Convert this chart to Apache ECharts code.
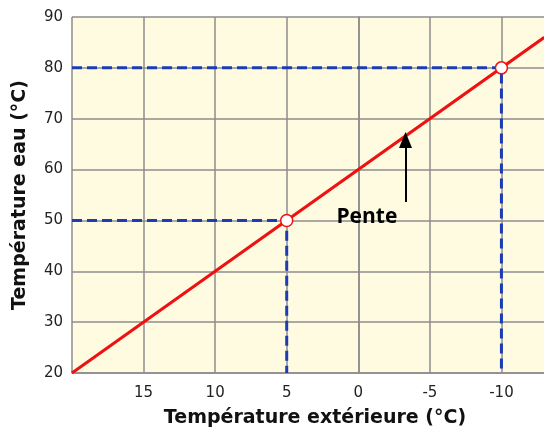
<!DOCTYPE html>
<html>
<head>
<meta charset="utf-8">
<script src="https://cdn.jsdelivr.net/npm/echarts@6/dist/echarts.min.js"></script>
<style>
  html, body { margin: 0; padding: 0; background: #fff; }
  #chart { width: 544px; height: 428px; }
</style>
</head>
<body>
<div id="chart"></div>
<script>
// loi d'eau : température eau en fonction de la température extérieure
var pente = [[20, 20], [-13, 86]];
var pointsRepere = [[5, 50], [-10, 80]];
var guide50 = [[20, 50], [5, 50], [5, 20]];
var guide80 = [[20, 80], [-10, 80], [-10, 20]];
var fleche = [[-3.3, 53.6], [-3.3, 65.8]];
var etiquettePente = [[-0.6, 50.7]];

var myChart = echarts.init(document.getElementById('chart'));
var option;

var guideStyle = {
  color: '#1c3cb4',
  width: 3,
  type: [10, 5]
};

option = {
  backgroundColor: '#ffffff',
  animation: false,
  grid: {
    left: 72,
    right: -29,
    top: 17,
    bottom: 55,
    outerBoundsMode: 'none',
    show: true,
    backgroundColor: '#fefbe1',
    borderWidth: 0
  },
  // le nom de l'axe x est centré sur la partie visible
  title: {
    text: 'Température extérieure (°C)',
    left: 310,
    textAlign: 'center',
    top: 404,
    textStyle: {
      fontFamily: 'DejaVu Sans',
      fontWeight: 'bold',
      fontSize: 19,
      color: '#111'
    }
  },
  xAxis: {
    type: 'value',
    inverse: true,
    min: -15,
    max: 20,
    interval: 5,
    axisLine: { show: true, lineStyle: { color: '#8c8c8c', width: 1.5 } },
    axisTick: { show: false },
    splitLine: { show: true, lineStyle: { color: '#8c8c8c', width: 1.5 } },
    axisLabel: {
      margin: 13,
      fontFamily: 'DejaVu Sans',
      fontSize: 15,
      color: '#222',
      formatter: function (v) { return (v === 20 || v === -15) ? '' : String(v); }
    }
  },
  yAxis: {
    type: 'value',
    min: 20,
    max: 90,
    interval: 10,
    name: 'Température eau (°C)',
    nameLocation: 'middle',
    nameGap: 42,
    nameTextStyle: {
      fontFamily: 'DejaVu Sans',
      fontWeight: 'bold',
      fontSize: 19,
      color: '#111'
    },
    axisLine: { show: true, lineStyle: { color: '#8c8c8c', width: 1.5 } },
    axisTick: { show: false },
    splitLine: { show: true, lineStyle: { color: '#8c8c8c', width: 1.5 } },
    axisLabel: {
      margin: 9,
      fontFamily: 'DejaVu Sans',
      fontSize: 15,
      color: '#222'
    }
  },
  series: [
    {
      name: 'guide50',
      type: 'line',
      data: guide50,
      symbol: 'none',
      lineStyle: guideStyle,
      z: 2
    },
    {
      name: 'guide80',
      type: 'line',
      data: guide80,
      symbol: 'none',
      lineStyle: guideStyle,
      z: 2
    },
    {
      name: 'pente',
      type: 'line',
      data: pente,
      symbol: 'none',
      lineStyle: { color: '#ee1111', width: 3 },
      z: 3,
      markLine: {
        silent: true,
        symbol: ['none', 'triangle'],
        symbolSize: [13, 16],
        label: { show: false },
        lineStyle: { color: '#000', width: 2, type: 'solid' },
        data: [[{ coord: fleche[0] }, { coord: fleche[1] }]]
      }
    },
    {
      name: 'points',
      type: 'scatter',
      data: pointsRepere,
      symbol: 'circle',
      symbolSize: 12,
      itemStyle: { color: '#ffffff', borderColor: '#ee1111', borderWidth: 1.5, opacity: 1 },
      z: 4
    },
    {
      name: 'label',
      type: 'scatter',
      data: etiquettePente,
      symbolSize: 0,
      itemStyle: { opacity: 1 },
      label: {
        show: true,
        position: 'inside',
        formatter: 'Pente',
        fontFamily: 'Open Sans',
        fontWeight: 'bold',
        fontSize: 21,
        color: '#000'
      },
      z: 5
    }
  ]
};

option && myChart.setOption(option);
</script>
</body>
</html>
